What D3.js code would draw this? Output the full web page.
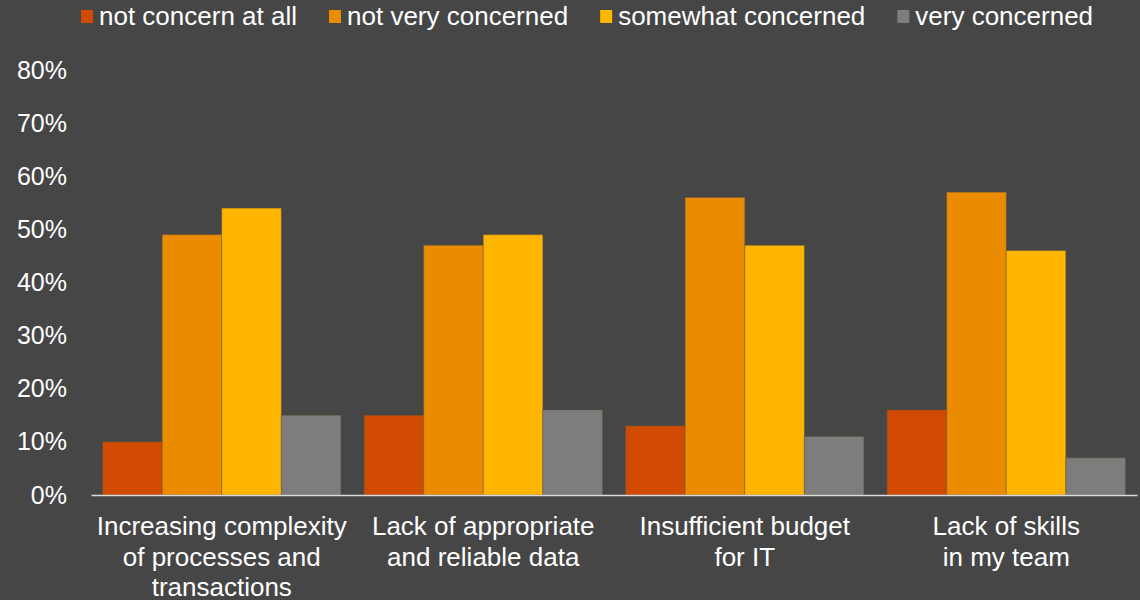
<!DOCTYPE html>
<html>
<head>
<meta charset="utf-8">
<script src="https://cdn.jsdelivr.net/npm/d3@7/dist/d3.min.js"></script>
<style>
  html, body { margin: 0; padding: 0; background: #464646; }
  svg { display: block; }
  text { font-family: "Liberation Sans", Arial, sans-serif; fill: #ffffff; }
</style>
</head>
<body>
<svg id="chart" width="1140" height="600"></svg>
<script>
// Survey: level of concern about each challenge
const categories = [
  ["Increasing complexity", "of processes and", "transactions"],
  ["Lack of appropriate", "and reliable data"],
  ["Insufficient budget", "for IT"],
  ["Lack of skills", "in my team"]
];
const seriesNames = ["not concern at all", "not very concerned", "somewhat concerned", "very concerned"];
const seriesColors = ["#D04A02", "#EB8C00", "#FFB600", "#7D7D7D"];

// Percent of respondents per series, one entry per category
const notConcernAtAll   = [10, 15, 13, 16];
const notVeryConcerned  = [49, 47, 56, 57];
const somewhatConcerned = [54, 49, 47, 46];
const veryConcerned     = [15, 16, 11, 7];

const yTicks = [0, 10, 20, 30, 40, 50, 60, 70, 80];

const seriesValues = [notConcernAtAll, notVeryConcerned, somewhatConcerned, veryConcerned];
const catKeys = categories.map(c => c.join(" "));

const svg = d3.select("#chart");
svg.append("rect").attr("width", 1140).attr("height", 600).attr("fill", "#464646");

const plot = { left: 91, right: 1137, top: 70, bottom: 495 };

const x = d3.scaleBand()
  .domain(catKeys)
  .range([plot.left, plot.right])
  .paddingInner(0.089)
  .paddingOuter(0.0445);

const xs = d3.scaleBand()
  .domain(seriesNames)
  .range([0, x.bandwidth()])
  .padding(0);

const y = d3.scaleLinear().domain([0, 80]).range([plot.bottom, plot.top]);

// Y axis labels (no line, no gridlines)
const yAxis = d3.axisLeft(y)
  .tickValues(yTicks)
  .tickFormat(d => d + "%")
  .tickSize(0)
  .tickPadding(0);
const gy = svg.append("g").attr("transform", "translate(67,0)").call(yAxis);
gy.select(".domain").remove();
gy.selectAll("text")
  .attr("font-size", 25)
  .attr("font-family", "Liberation Sans, Arial, sans-serif")
  .attr("fill", "#ffffff");

// Bars
const groups = svg.append("g").selectAll("g")
  .data(catKeys)
  .join("g")
  .attr("transform", d => `translate(${x(d)},0)`);

groups.selectAll("rect")
  .data((d, i) => seriesNames.map((s, j) => ({ s, j, v: seriesValues[j][i] })))
  .join("rect")
  .attr("x", d => xs(d.s))
  .attr("width", xs.bandwidth())
  .attr("y", d => y(d.v))
  .attr("height", d => y(0) - y(d.v))
  .attr("fill", d => seriesColors[d.j])
  .attr("stroke", "#6b5a3a")
  .attr("stroke-opacity", 0.45)
  .attr("stroke-width", 1);

// Category axis baseline
const xAxis = d3.axisBottom(x).tickSize(0).tickFormat("");
const gx = svg.append("g").attr("transform", `translate(0,${plot.bottom})`).call(xAxis);
gx.select(".domain").attr("stroke", "#d9d9d9").attr("stroke-width", 1.5);

// Wrapped category labels
categories.forEach((lines, i) => {
  const cx = x(catKeys[i]) + x.bandwidth() / 2;
  const t = svg.append("text")
    .attr("text-anchor", "middle")
    .attr("font-size", 26);
  lines.forEach((ln, k) => {
    t.append("tspan").attr("x", cx).attr("y", 535 + k * 30.5).text(ln);
  });
});

// Legend along the top
const legend = svg.append("g");
let lx = 81;
seriesNames.forEach((name, j) => {
  legend.append("rect")
    .attr("x", lx).attr("y", 10)
    .attr("width", 12).attr("height", 13)
    .attr("fill", seriesColors[j]);
  const t = legend.append("text")
    .attr("x", lx + 18).attr("y", 25)
    .attr("font-size", 26)
    .text(name);
  lx += 18 + t.node().getComputedTextLength() + 32;
});
</script>
</body>
</html>
